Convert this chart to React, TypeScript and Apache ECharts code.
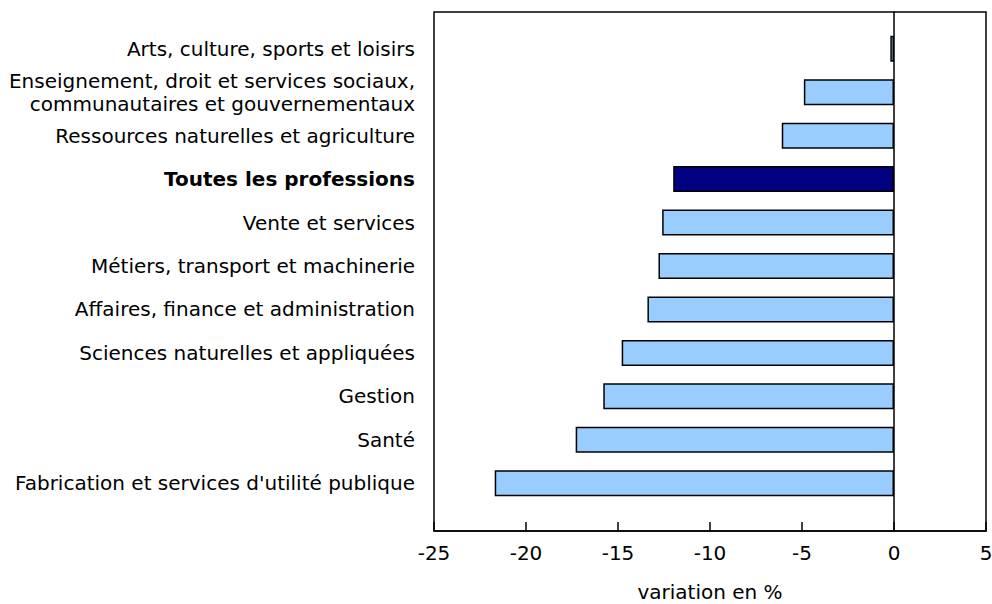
import React, { useEffect, useRef } from "react";
import * as echarts from "echarts";

const categories = [
  "Arts, culture, sports et loisirs",
  "Enseignement, droit et services sociaux,\ncommunautaires et gouvernementaux",
  "Ressources naturelles et agriculture",
  "Toutes les professions",
  "Vente et services",
  "Métiers, transport et machinerie",
  "Affaires, finance et administration",
  "Sciences naturelles et appliquées",
  "Gestion",
  "Santé",
  "Fabrication et services d'utilité publique",
];
const values = [-0.2, -4.9, -6.1, -12.0, -12.6, -12.8, -13.4, -14.8, -15.8, -17.3, -21.7];
const highlight = "Toutes les professions";
const xTicks = { min: -25, max: 5, interval: 5 };
const xTitle = "variation en %";

const FONT = "DejaVu Sans";
const FS = 20;

export default function App() {
  const ref = useRef<HTMLDivElement>(null);
  useEffect(() => {
    if (!ref.current) return;
    const chart = echarts.init(ref.current, undefined, { renderer: "svg" });
    chart.setOption({
      animation: false,
      backgroundColor: "#fff",
      grid: [
        { left: 434, right: 6, top: 12, bottom: 73, containLabel: false, outerBoundsMode: "none", show: true, borderColor: "#000", borderWidth: 1.5, backgroundColor: "transparent" },
        { left: 434, right: 6, top: 27, bottom: 99, containLabel: false, outerBoundsMode: "none" },
      ],
      xAxis: [
        {
          gridIndex: 0,
          type: "value",
          min: xTicks.min,
          max: xTicks.max,
          interval: xTicks.interval,
          axisLine: { show: true, onZero: false, lineStyle: { color: "#000", width: 1.5 } },
          axisTick: { show: true, inside: true, length: 9, lineStyle: { color: "#000", width: 1.5 } },
          axisLabel: { color: "#000", fontFamily: FONT, fontSize: FS, margin: 12 },
          splitLine: { show: false },
          name: xTitle,
          nameLocation: "middle",
          nameGap: 51,
          nameTextStyle: { color: "#000", fontFamily: FONT, fontSize: FS },
        },
        {
          gridIndex: 1,
          type: "value",
          min: xTicks.min,
          max: xTicks.max,
          interval: xTicks.interval,
          show: false,
        },
      ],
      yAxis: [
        {
          gridIndex: 0,
          type: "value",
          min: 0,
          max: 1,
          axisLine: { show: true, onZero: true, lineStyle: { color: "#000", width: 1.5 } },
          axisTick: { show: false },
          axisLabel: { show: false },
          splitLine: { show: false },
        },
        {
          gridIndex: 1,
          type: "category",
          data: categories,
          inverse: true,
          axisLine: { show: false },
          axisTick: { show: false },
          axisLabel: {
            color: "#000",
            fontFamily: FONT,
            fontSize: FS,
            margin: 19,
            lineHeight: 23,
            formatter: (v: string) => (v === highlight ? `{b|${v}}` : v),
            rich: { b: { fontWeight: "bold", fontFamily: FONT, fontSize: FS, color: "#000" } },
          },
        },
      ],
      series: [
        {
          type: "bar",
          xAxisIndex: 1,
          yAxisIndex: 1,
          barWidth: 26,
          data: values.map((v, i) => ({
            value: v,
            itemStyle: {
              color: categories[i] === highlight ? "#000080" : "#99CCFF",
              borderColor: "#000",
              borderWidth: 1.5,
            },
          })),
        },
      ],
    });
    return () => chart.dispose();
  }, []);
  return <div ref={ref} style={{ position: "absolute", left: 0, top: 0, width: 992, height: 604 }} />;
}
